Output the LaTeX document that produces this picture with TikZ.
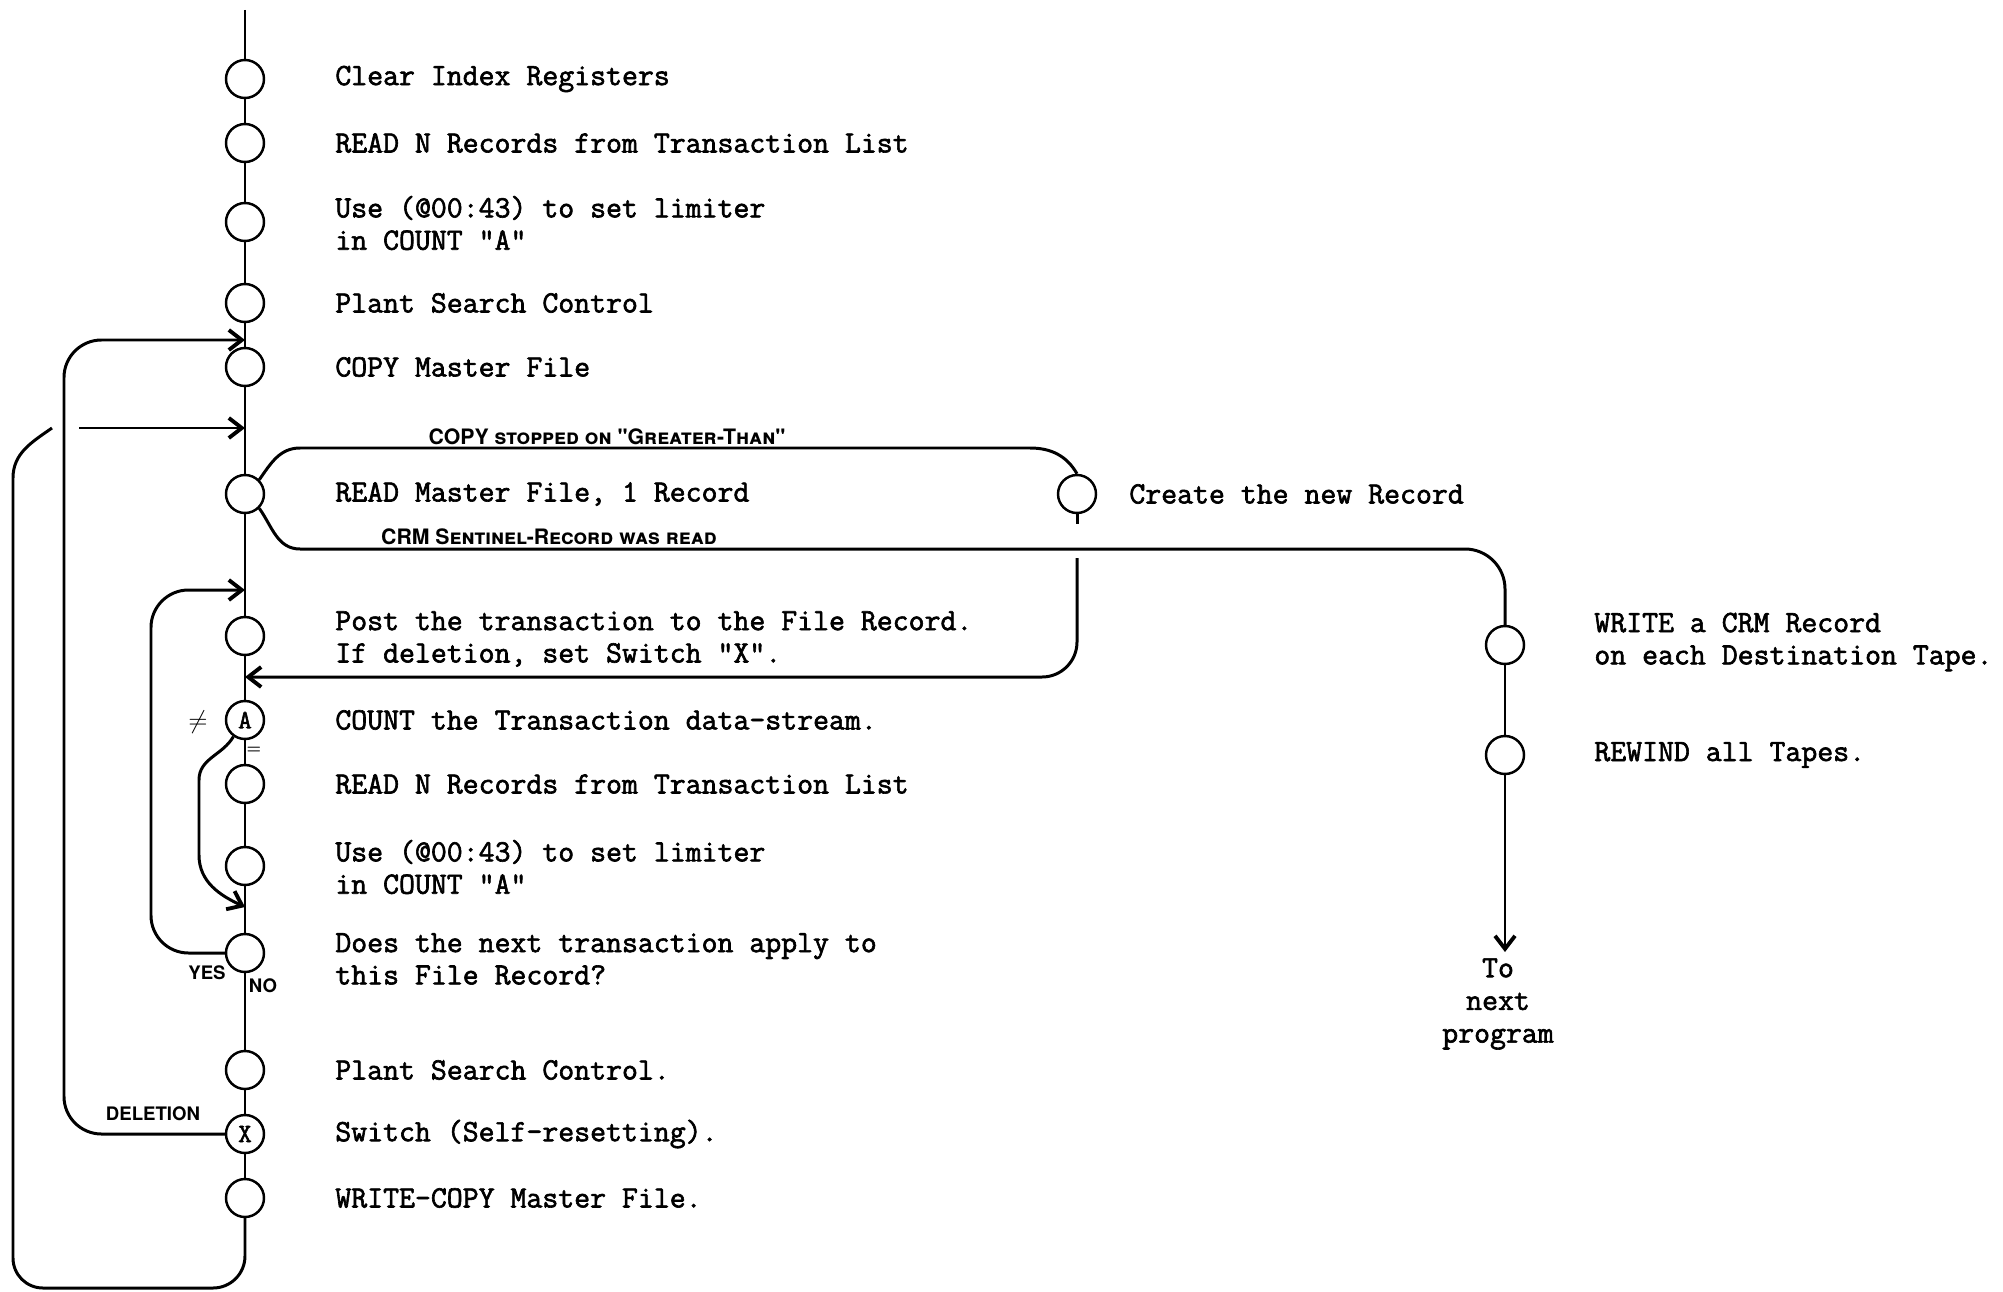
\documentclass[tikz,border=0pt]{standalone}
\usepackage{fontspec}
\usepackage{tikz}
\usetikzlibrary{arrows.meta}
\newfontfamily\typefont[FakeBold=2]{Latin Modern Mono}
\newfontfamily\lblfont[Letters=SmallCaps]{TeX Gyre Heros}

\begin{document}
\begin{tikzpicture}[x=0.02cm, y=-0.02cm,
    op/.style={circle, draw, line width=1.4pt, minimum size=0.76cm, inner sep=0pt,
      font=\typefont\fontsize{15}{15}\selectfont},
    txt/.style={anchor=west, align=left, inner sep=0pt,
      font=\typefont\fontsize{17.6}{18.4}\selectfont},
    lbl/.style={inner sep=0pt, font=\lblfont\bfseries\fontsize{12.1}{14}\selectfont},
    tag/.style={inner sep=0pt, font=\lblfont\bfseries\fontsize{10.6}{12}\selectfont},
    spine/.style={line width=1.1pt},
    flow/.style={line width=1.7pt, line join=round},
    arr/.style={flow, -{Straight Barb[length=2.6mm, width=4mm, line width=2.2pt]}}]
  \useasboundingbox (0,0) rectangle (2003,1291);

  % main column
  \node[op] (c1) at (245,79) {};
  \node[op] (c2) at (245,143) {};
  \node[op] (c3) at (245,222) {};
  \node[op] (c4) at (245,303) {};
  \node[op] (c5) at (245,367) {};
  \node[op] (c6) at (245,494) {};
  \node[op] (c7) at (245,636) {};
  \node[op] (c8) at (245,720) {A};
  \node[op] (c9) at (245,784) {};
  \node[op] (c10) at (245,866) {};
  \node[op] (c11) at (245,953) {};
  \node[op] (c12) at (245,1070) {};
  \node[op] (c13) at (245,1134) {X};
  \node[op] (c14) at (245,1198) {};

  \node[txt] (t1) at (335,79) {Clear Index Registers};
  \node[txt] (t2) at (335,143) {READ N Records from Transaction List};
  \node[txt] (t3) at (335,223) {Use (@00:43) to set limiter\\in COUNT "A"};
  \node[txt] (t4) at (335,303) {Plant Search Control};
  \node[txt] (t5) at (335,367) {COPY Master File};
  \node[txt] (t6) at (335,494) {READ Master File, 1 Record};
  \node[txt] (t7) at (335,639) {Post the transaction to the File Record.\\If deletion, set Switch "X".};
  \node[txt] (t8) at (335,720) {COUNT the Transaction data-stream.};
  \node[txt] (t9) at (335,784) {READ N Records from Transaction List};
  \node[txt] (t10) at (335,867) {Use (@00:43) to set limiter\\in COUNT "A"};
  \node[txt] (t11) at (335,959) {Does the next transaction apply to\\this File Record?};
  \node[txt] (t12) at (335,1070) {Plant Search Control.};
  \node[txt] (t13) at (335,1134) {Switch (Self-resetting).};
  \node[txt] (t14) at (335,1198) {WRITE-COPY Master File.};

  % side branches
  \node[op] (cr) at (1077,494) {};
  \node[txt] (tr) at (1129,494) {Create the new Record};
  \node[op] (w1) at (1505,645) {};
  \node[op] (w2) at (1505,755) {};
  \node[txt] (tw1) at (1594,642) {WRITE a CRM Record\\on each Destination Tape.};
  \node[txt] (tw2) at (1594,755) {REWIND all Tapes.};
  \node[align=center, inner sep=0pt, font=\typefont\fontsize{17.6}{18.6}\selectfont]
    (next) at (1498,1004) {To\\next\\program};

  % points on the lines
  \coordinate (top) at (245,10);
  \coordinate (inDel) at (245,340);
  \coordinate (inOuter) at (245,428);
  \coordinate (inYes) at (245,590);
  \coordinate (inPost) at (245,677);
  \coordinate (inNe) at (245,907);
  \coordinate (oTop) at (52,428);
  \coordinate (oStart) at (79,428);
  \coordinate (gapA) at (1077,524);
  \coordinate (gapB) at (1077,558);
  \coordinate (outEnd) at (1505,952);

  \draw[spine] (top) -- (c1) -- (c2) -- (c3) -- (c4) -- (c5) -- (c6) -- (c7)
    -- (c8) -- (c9) -- (c10) -- (c11) -- (c12) -- (c13) -- (c14);

  % loops back into the main column
  \draw[flow] (c14.south) -- (245,1256) to[out=-90,in=0] (213,1288) -- (43,1288)
    to[out=180,in=-90] (13,1258) -- (13,478) to[out=90,in=215] (oTop);
  \draw[arr] (oStart) -- (inOuter);
  \draw[arr, rounded corners=0.75cm] (c13.west) -| (64,340) -- (inDel);
  \draw[arr, rounded corners=0.75cm] (c11.west) -| (151,590) -- (inYes);
  \draw[arr] (c8.235) to[out=240,in=90] (199,780) -- (199,855) to[out=-90,in=155] (inNe);

  % exits of READ Master File
  \draw[flow] (c6.45) to[out=55,in=180] (300,448) -- (1030,448) to[out=0,in=120] (cr.north);
  \draw[flow] (cr) -- (gapA);
  \draw[arr, rounded corners=0.7cm] (gapB) |- (inPost);
  \draw[flow] (c6.-45) to[out=-55,in=180] (300,549);
  \draw[flow, rounded corners=0.8cm] (300,549) -| (w1.north);
  \draw[spine] (w1) -- (w2);
  \draw[arr, line width=1.3pt] (w2) -- (outEnd);

  % labels
  \node[lbl] (lCopy) at (607,437) {COPY stopped on "Greater-Than"};
  \node[lbl] (lCrm) at (549,537) {CRM Sentinel-Record was read};
  \node[tag] (lDel) at (153,1114) {DELETION};
  \node[tag] (lYes) at (207,973) {YES};
  \node[tag] (lNo) at (263,986) {NO};
  \node[inner sep=0pt, font=\fontsize{15}{15}\selectfont] (lNe) at (198,722) {$\neq$};
  \node[inner sep=0pt, font=\bfseries\fontsize{9}{9}\selectfont] (lEq) at (254,750) {=};
\end{tikzpicture}
\end{document}
